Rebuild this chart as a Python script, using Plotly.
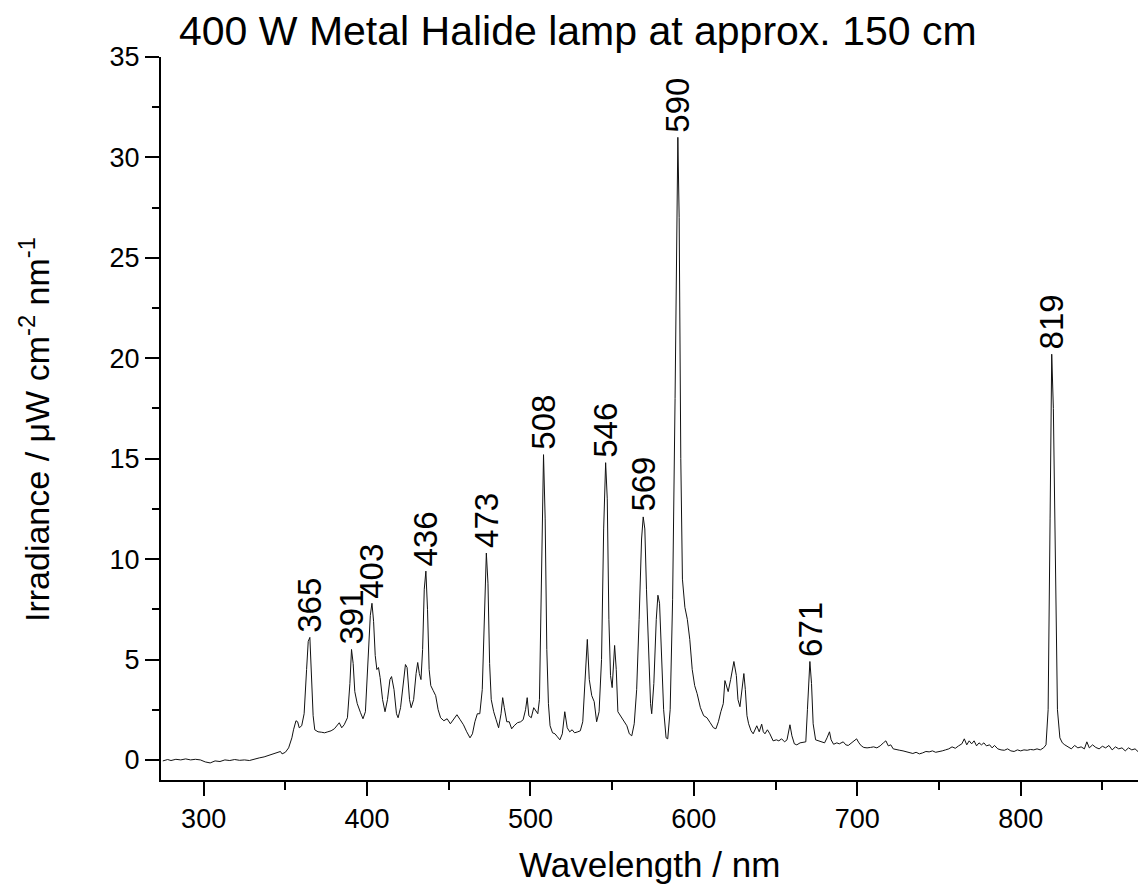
import plotly.graph_objects as go

# Spectrum
wavelength_nm = [
    275, 278, 280, 283, 286, 289, 292, 295, 298, 301, 304, 307, 310, 313, 316, 319, 322, 325, 328, 331,
    334, 337, 340, 343, 345, 347, 348, 350, 352, 354, 355, 356.5, 357.5, 358.5, 360, 361.5, 363, 364, 365, 366,
    367, 368, 370, 372, 374, 376, 378, 380, 381.5, 383, 384.5, 386, 388, 389.5, 390.5, 391.5, 392.5, 394, 396, 397.5,
    399, 400.5, 402, 403, 404, 405, 406, 407, 408, 409.5, 411, 412.5, 414, 415, 416.5, 418, 419, 420.5, 422, 423.5,
    424.5, 426, 427, 428.5, 430, 431, 432, 433, 434, 435, 436, 437, 438, 439, 440.5, 442, 443.5, 445, 447, 449,
    451, 453, 455, 457, 459, 461, 463, 464.5, 466, 467.5, 469, 470.5, 472, 473, 474, 475, 476, 477.5, 479, 480.5,
    482, 483, 484, 485.5, 487, 488.5, 490, 492, 494, 495.5, 497, 498, 499, 500.5, 502, 503, 504.5, 505.5, 506.5, 507.5,
    508, 509, 510, 511, 512, 513.5, 515, 516.5, 518, 519.5, 521, 522.5, 524, 525.5, 527, 529, 530.5, 532, 533.5, 534.8,
    536, 537.5, 539, 540.5, 542, 543.5, 544.8, 546, 547, 548, 549, 550, 551.5, 552.5, 553.5, 555, 557, 559, 560.5, 562,
    563.5, 565, 566.5, 568, 569, 570, 571, 572.5, 573.5, 574.2, 575.5, 577, 578, 579, 580.3, 581.5, 583, 584, 585.5, 587,
    588.5, 589.5, 590.2, 591, 592, 593, 594.5, 596, 597.5, 599, 600.5, 602, 604, 606, 608, 610, 612, 613.5, 615, 616.5,
    618, 619, 620, 621, 622.5, 624.5, 626, 627, 628.2, 629.5, 630.6, 631.5, 632.5, 633.5, 635, 636.3, 637.5, 638.5, 640, 641.5,
    642.5, 643.5, 645, 646.5, 648.5, 650.5, 652, 653.7, 655.5, 657, 658.8, 660, 661.5, 663, 665, 667, 668.5, 669.5, 670.5, 671,
    672, 673, 674.5, 676, 678, 680, 681.5, 683, 684, 685.5, 687.5, 689, 691.4, 693, 694.5, 696.5, 698, 699.6, 701, 702.5,
    704, 706, 708, 710, 712, 714, 716, 717.5, 719, 720.5, 722, 724, 726, 728, 730, 732, 734, 736, 738, 740,
    742, 744, 746, 748, 750, 752, 754, 756, 758, 760, 762, 764, 765.5, 767, 768.5, 770, 771.5, 773, 774.5, 776,
    777.5, 779, 781, 782.5, 784, 786, 788, 790, 792, 794, 796, 798, 800, 802, 804, 806, 808, 810, 812, 814,
    815.5, 816.8, 818, 819, 820, 821.5, 822.5, 824, 825.5, 827, 829, 831, 833, 835, 837, 839, 840.5, 842, 844, 846,
    848, 850, 852, 854, 856, 858, 860, 862, 864, 866, 868, 870, 872,
]
irradiance = [
    -0.05, 0.02, -0.03, 0.03, 0.0, 0.05, 0.0, 0.03, 0.0, -0.1, -0.15, -0.05, -0.08, 0.0, -0.03, 0.02, -0.02, 0.0, -0.03, 0.05,
    0.1, 0.15, 0.22, 0.3, 0.35, 0.42, 0.3, 0.38, 0.6, 1.1, 1.5, 1.95, 1.9, 1.6, 1.7, 2.3, 4.5, 5.9, 6.1, 4.5,
    2.2, 1.5, 1.4, 1.38, 1.35, 1.4, 1.45, 1.55, 1.7, 1.85, 1.6, 1.75, 2.1, 3.8, 5.5, 4.8, 3.4, 2.8, 2.35, 2.05,
    2.4, 4.5, 7.2, 7.8, 6.9, 5.2, 4.5, 4.6, 4.1, 3.0, 2.4, 3.0, 4.0, 4.15, 3.5, 2.3, 2.1, 2.6, 3.6, 4.75,
    4.6, 3.0, 2.6, 3.0, 4.3, 4.85, 4.3, 4.0, 5.5, 8.5, 9.4, 7.5, 4.5, 3.7, 3.45, 3.2, 2.5, 2.1, 1.95, 2.05,
    1.8, 2.0, 2.25, 2.0, 1.75, 1.4, 1.1, 1.3, 1.9, 2.3, 2.3, 3.5, 7.5, 10.3, 8.8, 4.8, 3.0, 2.4, 2.0, 1.6,
    2.3, 3.1, 2.6, 1.9, 1.9, 1.55, 1.7, 1.85, 1.9, 2.0, 2.5, 3.1, 2.2, 2.1, 2.6, 2.45, 2.3, 3.0, 7.5, 13.5,
    15.2, 12.0, 5.5, 2.8, 1.7, 1.35, 1.3, 1.15, 1.0, 1.3, 2.4, 1.6, 1.4, 1.5, 1.35, 1.4, 1.45, 1.9, 3.8, 6.0,
    4.0, 3.2, 2.9, 1.9, 2.4, 5.0, 11.5, 14.8, 13.0, 7.0, 4.2, 3.6, 5.7, 4.5, 2.4, 2.2, 1.9, 1.7, 1.3, 1.2,
    1.8, 3.5, 7.0, 11.0, 12.1, 11.5, 8.5, 5.0, 2.8, 2.3, 3.8, 7.0, 8.2, 7.8, 4.8, 2.5, 1.1, 1.05, 2.5, 8.0,
    18.0, 28.0, 31.0, 27.0, 15.0, 9.0, 7.6, 7.0, 6.0, 4.5, 3.7, 3.3, 2.6, 2.2, 2.1, 1.85, 1.6, 1.55, 1.9, 2.4,
    2.8, 3.95, 3.6, 3.4, 4.0, 4.9, 4.2, 3.0, 2.65, 3.5, 4.3, 3.5, 2.2, 1.8, 1.45, 1.3, 1.5, 1.7, 1.4, 1.78,
    1.4, 1.3, 1.5, 1.3, 0.95, 1.0, 0.95, 1.05, 0.9, 1.0, 1.75, 1.2, 0.8, 0.75, 0.85, 0.9, 0.9, 2.5, 4.5, 4.9,
    3.8, 1.8, 1.0, 0.95, 0.9, 0.85, 1.1, 1.4, 1.0, 0.78, 0.85, 0.8, 0.9, 0.75, 0.72, 0.85, 0.95, 1.05, 0.85, 0.7,
    0.62, 0.6, 0.62, 0.65, 0.6, 0.7, 0.85, 0.95, 0.7, 0.75, 0.55, 0.5, 0.48, 0.45, 0.4, 0.38, 0.32, 0.38, 0.3, 0.35,
    0.42, 0.4, 0.45, 0.38, 0.4, 0.45, 0.5, 0.55, 0.65, 0.58, 0.7, 0.8, 1.05, 0.75, 0.95, 0.8, 0.95, 0.7, 0.85, 0.75,
    0.85, 0.7, 0.75, 0.6, 0.72, 0.55, 0.5, 0.48, 0.55, 0.45, 0.42, 0.5, 0.45, 0.5, 0.48, 0.52, 0.5, 0.55, 0.5, 0.6,
    0.75, 2.5, 12.0, 20.2, 17.5, 7.0, 2.5, 1.1, 0.85, 0.75, 0.65, 0.55, 0.72, 0.6, 0.65, 0.55, 0.9, 0.6, 0.75, 0.62,
    0.55, 0.68, 0.6, 0.72, 0.5, 0.65, 0.55, 0.6, 0.45, 0.6, 0.5, 0.55, 0.4,
]

# Labelled peaks (label text, wavelength, peak height)
peak_labels = ["365", "391", "403", "436", "473", "508", "546", "569", "590", "671", "819"]
peak_nm = [365, 390.5, 403, 436, 473, 508, 546, 569, 590.2, 671, 819]
peak_val = [6.1, 5.5, 7.8, 9.4, 10.3, 15.2, 14.8, 12.1, 31.0, 4.9, 20.2]

title_text = "400 W Metal Halide lamp at approx. 150 cm"
x_title = "Wavelength / nm"
y_title = "Irradiance / \u03bcW cm<sup>-2</sup> nm<sup>-1</sup>"

FONT = "Liberation Sans, Arial, sans-serif"

fig = go.Figure()
fig.add_trace(go.Scatter(
    x=wavelength_nm, y=irradiance, mode="lines",
    line=dict(color="#111111", width=1), showlegend=False, hoverinfo="skip",
))

for lab, xv, yv in zip(peak_labels, peak_nm, peak_val):
    fig.add_annotation(
        x=xv, y=yv, xref="x", yref="y", text=lab, showarrow=False,
        textangle=-90, xanchor="center", yanchor="bottom", yshift=3,
        font=dict(family=FONT, size=33, color="black"),
    )

# Title and axis titles
fig.add_annotation(
    x=(177 - 161) / 977, y=(780 - 6) / 723, xref="paper", yref="paper",
    text=title_text, showarrow=False, xanchor="left", yanchor="top",
    font=dict(family=FONT, size=41, color="black"),
)
fig.add_annotation(
    x=0.5, y=(780 - 864) / 723, xref="paper", yref="paper",
    text=x_title, showarrow=False, xanchor="center", yanchor="middle",
    font=dict(family=FONT, size=35, color="black"),
)
fig.add_annotation(
    x=(35 - 161) / 977, y=(780 - 430) / 723, xref="paper", yref="paper",
    text=y_title, showarrow=False, textangle=-90, xanchor="center", yanchor="middle",
    font=dict(family=FONT, size=34, color="black"),
)

axis_common = dict(
    showline=True, linecolor="black", linewidth=2, mirror=False,
    ticks="outside", tickwidth=2, tickcolor="black",
    showgrid=False, zeroline=False,
    tickfont=dict(family=FONT, size=27, color="black"),
)

fig.update_xaxes(
    range=[273.9, 871.8], dtick=100, tick0=0, ticklen=14,
    minor=dict(dtick=50, tick0=0, ticklen=8, tickwidth=2, tickcolor="black", ticks="outside"),
    **axis_common,
)
fig.update_yaxes(
    range=[-1.0, 35], dtick=5, tick0=0, ticklen=14,
    minor=dict(dtick=2.5, tick0=0, ticklen=7, tickwidth=2, tickcolor="black", ticks="outside"),
    **axis_common,
)

fig.update_layout(
    width=1138, height=893,
    margin=dict(l=161, r=0, t=57, b=113, pad=0),
    paper_bgcolor="white", plot_bgcolor="white",
    font=dict(family=FONT, color="black"),
)

fig.write_html("out.html")
